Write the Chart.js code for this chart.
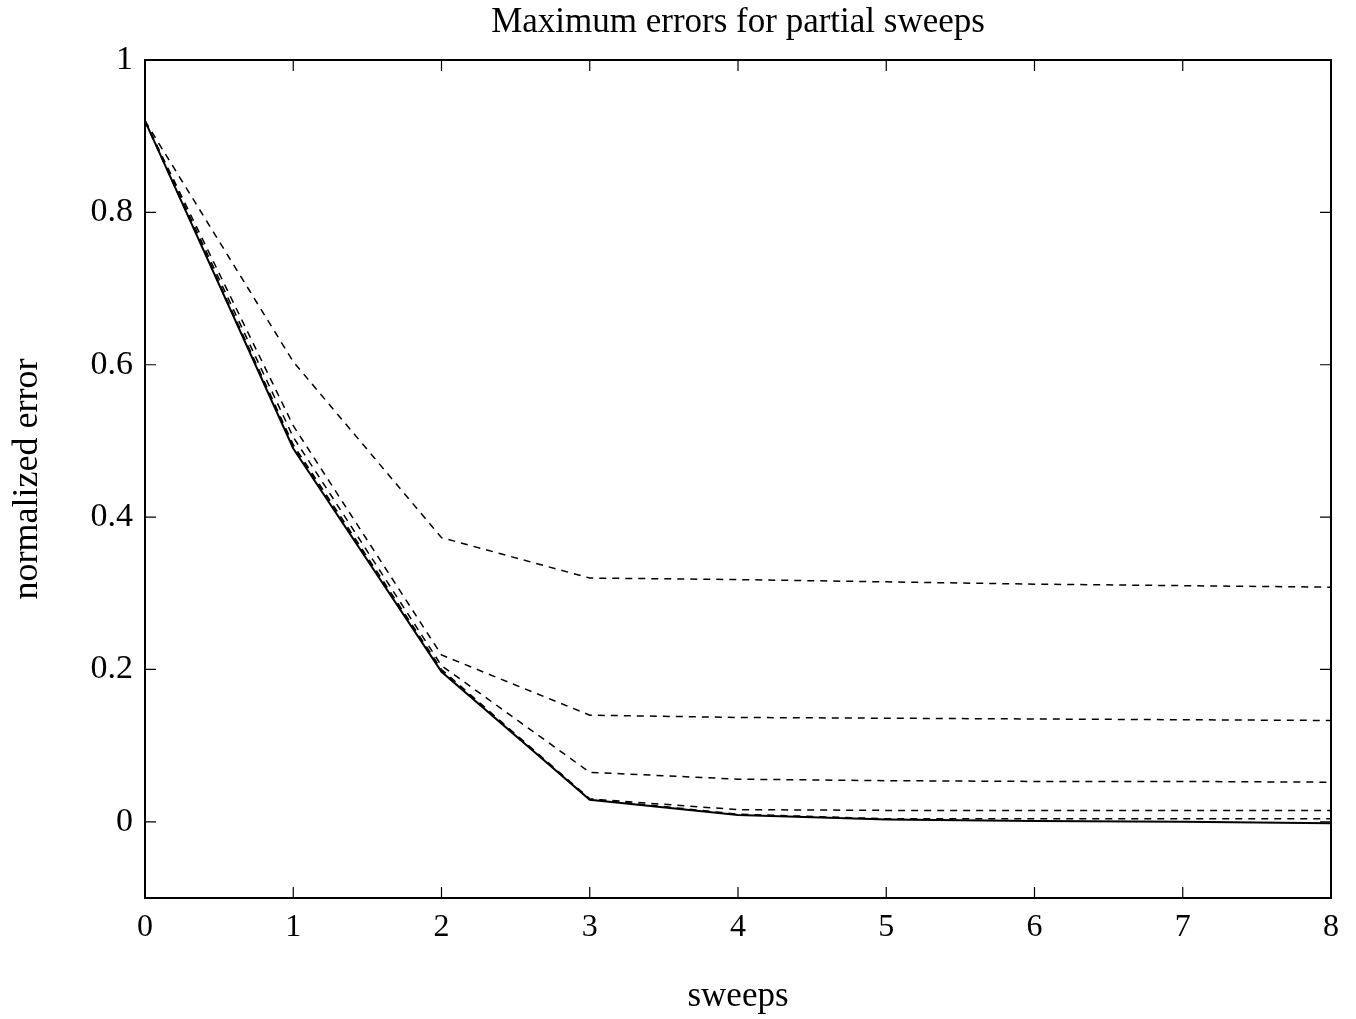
<!DOCTYPE html>
<html>
<head>
<meta charset="utf-8">
<script src="https://cdn.jsdelivr.net/npm/chart.js@4"></script>
<style>
  html, body { margin: 0; padding: 0; background: #fff; }
  #wrap { width: 1356px; height: 1019px; }
</style>
</head>
<body>
<div id="wrap"><canvas id="errChart" width="1356" height="1019"></canvas></div>
<script>
// sweeps on the x axis
const sweeps = [0, 1, 2, 3, 4, 5, 6, 7, 8];
const yTicks = [0, 0.2, 0.4, 0.6, 0.8, 1];
const chartTitle = 'Maximum errors for partial sweeps';

// full sweep (solid line)
const fullSweep = [0.92, 0.49, 0.197, 0.029, 0.009, 0.003, 0.001, 0.0, -0.002];
// partial sweeps (dashed lines)
const partialA = [0.92, 0.604, 0.373, 0.32, 0.318, 0.315, 0.312, 0.31, 0.308];
const partialB = [0.92, 0.52, 0.219, 0.14, 0.137, 0.136, 0.135, 0.134, 0.133];
const partialC = [0.92, 0.505, 0.205, 0.065, 0.056, 0.054, 0.053, 0.053, 0.052];
const partialD = [0.92, 0.495, 0.2, 0.03, 0.016, 0.015, 0.015, 0.015, 0.015];
const partialE = [0.92, 0.492, 0.198, 0.03, 0.01, 0.004, 0.004, 0.004, 0.004];

const serif = "'Liberation Serif', 'DejaVu Serif', serif";

function toPoints(vals) {
    return sweeps.map((s, i) => ({ x: s, y: vals[i] }));
}

function dashed(vals) {
    return {
        data: toPoints(vals),
        borderColor: '#000',
        borderWidth: 1.5,
        borderDash: [7, 6],
        pointRadius: 0,
        tension: 0,
        fill: false
    };
}

// box around the plot with inward tick marks on every side, title centred on the plot
const boxTicks = {
    id: 'boxTicks',
    afterDatasetsDraw(chart) {
        const { ctx, chartArea: a, scales } = chart;
        const len = 11;
        ctx.save();
        ctx.strokeStyle = '#000';
        ctx.lineWidth = 1.2;
        ctx.beginPath();
        sweeps.forEach(s => {
            const px = scales.x.getPixelForValue(s);
            ctx.moveTo(px, a.bottom); ctx.lineTo(px, a.bottom - len);
            ctx.moveTo(px, a.top); ctx.lineTo(px, a.top + len);
        });
        yTicks.forEach(v => {
            const py = scales.y.getPixelForValue(v);
            ctx.moveTo(a.left, py); ctx.lineTo(a.left + len, py);
            ctx.moveTo(a.right, py); ctx.lineTo(a.right - len, py);
        });
        ctx.stroke();
        ctx.lineWidth = 2;
        ctx.strokeRect(a.left, a.top, a.right - a.left, a.bottom - a.top);

        ctx.fillStyle = '#000';
        ctx.font = '35px ' + serif;
        ctx.textAlign = 'center';
        ctx.textBaseline = 'middle';
        ctx.fillText(chartTitle, (a.left + a.right) / 2, 23);
        ctx.restore();
    }
};

new Chart(document.getElementById('errChart'), {
    type: 'line',
    data: {
        datasets: [
            {
                data: toPoints(fullSweep),
                borderColor: '#000',
                borderWidth: 2,
                pointRadius: 0,
                tension: 0,
                fill: false
            },
            dashed(partialA),
            dashed(partialB),
            dashed(partialC),
            dashed(partialD),
            dashed(partialE)
        ]
    },
    options: {
        responsive: false,
        animation: false,
        layout: { padding: { left: 0, right: 25, top: 60, bottom: 0 } },
        plugins: {
            legend: { display: false },
            tooltip: { enabled: false },
            title: { display: false }
        },
        scales: {
            x: {
                type: 'linear',
                min: 0,
                max: 8,
                grid: { display: false, drawTicks: false },
                border: { display: false },
                ticks: {
                    stepSize: 1,
                    color: '#000',
                    padding: 10,
                    font: { family: serif, size: 32 }
                },
                title: {
                    display: true,
                    text: 'sweeps',
                    color: '#000',
                    font: { family: serif, size: 35 },
                    padding: { top: 0, bottom: 1 }
                },
                afterFit(scale) { scale.height = 121; }
            },
            y: {
                min: -0.1,
                max: 1,
                grid: { display: false, drawTicks: false },
                border: { display: false },
                afterBuildTicks(scale) {
                    scale.ticks = yTicks.map(v => ({ value: v }));
                },
                ticks: {
                    color: '#000',
                    padding: 12,
                    font: { family: serif, size: 34 },
                    callback: v => String(Math.round(v * 10) / 10)
                },
                title: {
                    display: true,
                    text: 'normalized error',
                    color: '#000',
                    font: { family: serif, size: 36 },
                    padding: { top: 6, bottom: 0 }
                },
                afterFit(scale) { scale.width = 145; }
            }
        }
    },
    plugins: [boxTicks]
});
</script>
</body>
</html>
